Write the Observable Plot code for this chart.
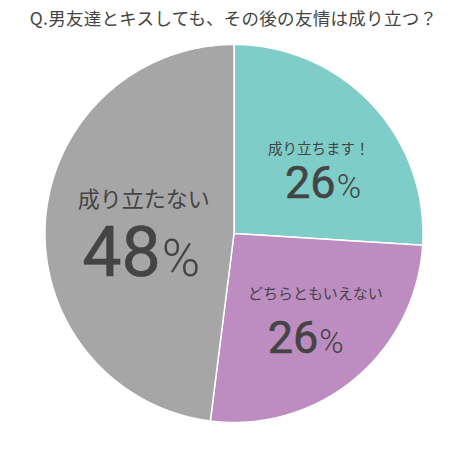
<!DOCTYPE html>
<html><head><meta charset="utf-8">
<script src="https://cdn.jsdelivr.net/npm/d3@7"></script>
<script src="https://cdn.jsdelivr.net/npm/@observablehq/plot@0.6"></script>
<style>
body{margin:0;background:#fff;width:467px;}
#title{height:34px;line-height:36px;text-align:center;font-family:"Noto Sans CJK JP","Noto Sans",sans-serif;font-size:17.5px;color:#444;letter-spacing:0.3px;}
#chart svg{display:block;}
</style></head>
<body>
<div id="title">Q.男友達とキスしても、その後の友情は成り立つ？</div>
<div id="chart"></div>
<script>
const categories = ["成り立ちます！", "どちらともいえない", "成り立たない"];
const values = [26, 26, 48];
const pctLabels = ["26", "26", "48"];
const colors = ["#7ecdc8", "#bd8cc0", "#a6a6a6"];

const pie = d3.pie().sort(null).value(d => d.value);
const arcs = pie(categories.map((c, i) => ({cat: c, value: values[i], pct: pctLabels[i]})));

// slice outlines (angle 0 at top, clockwise)
const rows = [];
for (const a of arcs) {
  rows.push({cat: a.data.cat, x: 0, y: 0});
  const n = Math.max(2, Math.ceil((a.endAngle - a.startAngle) / (Math.PI / 360)));
  for (let k = 0; k <= n; k++) {
    const t = a.startAngle + (a.endAngle - a.startAngle) * k / n;
    rows.push({cat: a.data.cat, x: Math.sin(t), y: Math.cos(t)});
  }
  rows.push({cat: a.data.cat, x: 0, y: 0});
}

// label anchors at 60% radius of each slice's mid-angle
const anchors = arcs.map(a => {
  const m = (a.startAngle + a.endAngle) / 2;
  return {cat: a.data.cat, pct: a.data.pct, x: 0.6 * Math.sin(m), y: 0.6 * Math.cos(m)};
});

// per-slice text styling: [labelDx, labelDy, labelSize, numDx, numDy, numSize, pctSize]
const styles = [
  [2, -2, 14.5, 19, 42.5, 45, 33],
  [9, -22, 15, 12, 32, 45, 33],
  [23, -19, 22, 40, 49.5, 70, 52]
];

const textMarks = [];
anchors.forEach((d, i) => {
  const s = styles[i];
  textMarks.push(Plot.text([d], {x: "x", y: "y", text: "cat", dx: s[0], dy: s[1], fontSize: s[2],
    lineAnchor: "bottom", textAnchor: "middle", fill: "#444",
    fontFamily: "'Noto Sans CJK JP', sans-serif"}));
  textMarks.push(Plot.text([d], {x: "x", y: "y", text: "pct", dx: s[3], dy: s[4], fontSize: s[5],
    lineAnchor: "bottom", textAnchor: "end", fill: "#444", stroke: "#444", strokeWidth: 0.6,
    fontFamily: "Roboto, sans-serif"}));
  textMarks.push(Plot.text([d], {x: "x", y: "y", text: () => "%", dx: s[3] + 1, dy: s[4], fontSize: s[6],
    lineAnchor: "bottom", textAnchor: "start", fill: "#444",
    fontFamily: "Roboto, sans-serif", fontWeight: 300}));
});

const chart = Plot.plot({
  width: 467,
  height: 431,
  marginLeft: 44.5,
  marginRight: 44.5,
  marginTop: 10,
  marginBottom: 43,
  x: {domain: [-1, 1], axis: null},
  y: {domain: [-1, 1], axis: null},
  color: {domain: categories, range: colors},
  marks: [
    Plot.line(rows, {x: "x", y: "y", z: "cat", fill: "cat", stroke: "white", strokeWidth: 1.5, curve: "linear"}),
    ...textMarks
  ]
});
document.getElementById("chart").appendChild(chart);
</script>
</body></html>
